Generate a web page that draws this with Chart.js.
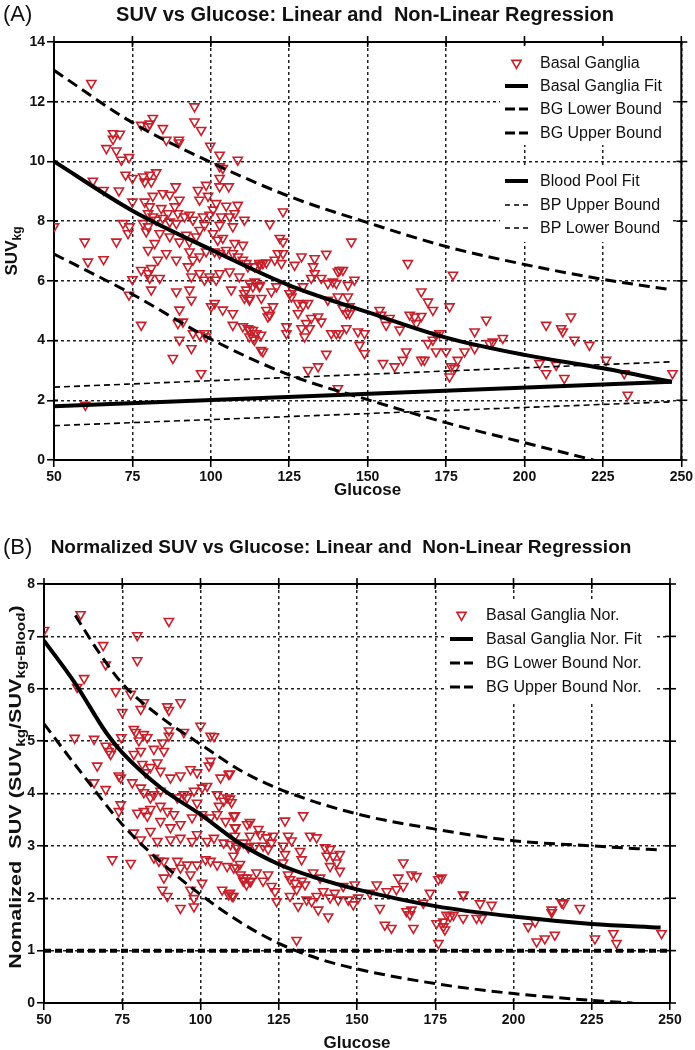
<!DOCTYPE html>
<html>
<head>
<meta charset="utf-8">
<script src="https://cdn.jsdelivr.net/npm/chart.js@4"></script>
<style>
  body { margin: 0; background: #fff; }
  #wrap { position: relative; width: 695px; height: 1050px; }
  canvas { position: absolute; left: 0; }
</style>
</head>
<body>
<div id="wrap">
  <canvas id="chartA" width="695" height="520" style="top:0"></canvas>
  <canvas id="chartB" width="695" height="530" style="top:520px"></canvas>
</div>
<script>
const FONT = "'Liberation Sans', Arial, sans-serif";
const RED = "#c8202b";

// ---- panel A: SUV vs glucose ----
const bgPoints = [
  [50,7.82],[60,1.84],[61.9,12.62],[94.8,11.84],[94.8,11.33],[96.9,11.05],[81.5,11.45],[77.8,11.22],[80,11.17],[80.5,11.26],
  [84.7,11.11],[68.8,10.94],[71,10.92],[68.8,10.75],[66.7,10.44],[69.9,10.36],[85.8,10.72],[89.8,10.72],[89.8,10.63],[99.8,10.52],
  [102.8,10.22],[108.6,10.05],[71.5,10.05],[73.9,10.14],[102.8,9.83],[103.8,9.77],[102.8,9.44],[105.7,9.16],[102.8,9.16],[72.8,9.55],
  [75,9.44],[78.4,9.49],[80.5,9.55],[78.9,9.32],[81,9.32],[82.6,9.63],[62.4,9.35],[65.8,9.04],[70.7,9.02],[75,8.65],
  [78.9,8.65],[81.5,8.84],[80.5,8.49],[84.7,8.93],[86.9,8.88],[88.8,9.16],[90,8.71],[95.9,9.04],[98.5,9.21],[99.1,8.84],
  [96.4,8.71],[101.7,8.6],[104.9,8.51],[108.6,8.54],[84.2,8.43],[86.3,8.26],[88.5,8.49],[89.5,8.26],[91.6,8.15],[93.2,8.21],
  [80,8.26],[81.5,8.15],[82.6,8.04],[84.7,8.1],[86.9,7.98],[89,7.93],[94.3,8.04],[78.4,7.93],[80,7.82],[79.4,7.65],
  [72,7.93],[73.6,7.59],[74.1,7.82],[97.5,8.15],[98,7.87],[96.4,7.7],[99.6,8.21],[100.7,8.38],[103.3,8.15],[106,8.15],
  [107.6,8.26],[110.7,8.04],[102.8,7.87],[107,7.82],[59.8,7.31],[69.9,7.31],[60.8,6.64],[65.8,6.72],[83.7,7.59],[86.9,7.48],
  [90,7.31],[92.2,7.54],[93.2,7.31],[95.3,7.48],[100.7,7.59],[102.2,7.37],[103.8,7.43],[107.6,7.26],[110.2,7.2],[80,7.03],
  [82.1,7.26],[83.1,6.7],[85.8,6.92],[89,6.7],[93.2,6.98],[94.3,6.7],[96.4,6.81],[98.5,6.98],[101.2,6.98],[102.8,6.92],
  [104.9,7.03],[107,6.92],[108.6,6.81],[110.2,6.7],[111.3,6.59],[77.8,6.36],[80,6.25],[81,6.42],[80.5,6.09],[83.7,6.09],
  [92.7,6.48],[93.8,6.14],[96.4,6.25],[98,6.03],[99.6,6.14],[101.7,6.03],[102.8,6.25],[106,6.31],[109.1,6.14],[111.8,6.48],
  [113.9,6.48],[115.5,6.59],[75,6.05],[73.9,5.53],[81,5.7],[89,5.64],[93.2,5.7],[93.8,5.36],[106.5,5.7],[111.3,5.7],
  [113.4,5.81],[110.7,5.42],[112.3,5.36],[115.5,5.81],[100.1,5.14],[101.2,5.25],[103.8,5.03],[107,4.91],[110.7,5.58],[77.8,4.52],
  [90,5.03],[89.5,4.58],[91.1,4.63],[107,4.52],[110.2,4.47],[111.8,4.41],[113.4,4.35],[112.3,4.13],[113.9,4.02],[116,4.19],
  [90,4.02],[94.3,4.24],[96.4,4.19],[98,4.24],[98.5,4.13],[87.9,3.41],[93.8,3.74],[96.9,2.9],[116,3.68],
  [123,8.32],[118.8,7.91],[122,7.43],[123,7.31],[144.8,7.31],[121.4,6.92],[123,6.92],[120.4,6.7],[122.5,6.59],[116.6,6.59],
  [115.6,6.53],[117.7,6.61],[128.9,6.81],[133.1,6.75],[136.8,6.9],[126.7,6.53],[132.6,6.48],[133.1,6.25],[141.1,6.36],[140.5,6.31],
  [142.1,6.36],[162.8,6.59],[177.2,6.2],[112.4,5.92],[114,5.97],[115.6,5.86],[119.3,5.64],[120.9,5.81],[125.1,5.58],[126.2,5.69],
  [129.4,5.81],[132,6.09],[135.2,6.09],[137.3,5.92],[138.9,5.97],[140,5.92],[143.7,5.86],[145.8,6.03],[112.4,5.42],[116.1,5.42],
  [125.7,5.47],[127.8,5.25],[129.4,5.19],[131,5.25],[137.3,5.36],[140.5,5.47],[143.7,5.47],[117.7,5.02],[118.8,4.86],[118.2,4.8],
  [119.8,5.14],[127.8,4.91],[130.4,4.58],[132,4.75],[134.2,4.8],[135.2,4.63],[142.1,5.08],[143.2,4.91],[144.2,4.91],[144.2,5.14],
  [112.4,4.36],[114.5,4.24],[113.5,4.08],[124.1,4.47],[124.1,4.24],[128.9,4.41],[129.9,4.13],[131.5,4.41],[138.4,4.24],[140,4.24],
  [141.1,4.24],[143.2,4.41],[146.9,4.3],[149,4.24],[116.6,3.63],[136.8,3.55],[147.4,3.85],[149,3.57],[131,3.01],[134.2,3.13],
  [140.5,2.4],[153.8,5.02],[154.3,4.86],[157,4.75],[155.9,4.52],[160.2,4.36],[167.1,5.64],[169.2,5.3],[170.8,5.02],[176.1,5.14],
  [163.4,4.86],[165,4.8],[167.1,4.82],[165.5,4.58],[171.8,4.19],[172.9,4.24],[169.2,3.91],[170.8,4.02],[154.9,3.24],[158.6,3.13],
  [161.2,3.35],[162.3,3.63],[167.1,3.35],[168.1,3.35],[171.8,3.63],[175,3.63],[176.6,3.13],[177.7,3.07],[178.7,3.35],[176.1,2.79],
  [180.9,3.63],[184.1,3.74],[184.1,4.3],[187.8,4.69],[188.8,3.91],[189.9,3.96],[193.1,4.08],[206.9,4.52],[211.7,4.41],[212.2,4.3],
  [214.8,4.8],[215.9,4.02],[220.7,3.85],[204.8,3.24],[206.9,2.9],[210.1,3.18],[212.7,2.74],[226,3.35],[231.8,2.9],[232.9,2.18],
  [247.2,2.9]
];
const bgFitX = [50, 75, 100, 125, 150, 175, 200, 225, 247];
const bgFitY = [10.0, 8.35, 7.05, 5.85, 4.95, 4.1, 3.52, 3.07, 2.62];
const bgUpperX = [50, 75, 100, 125, 150, 175, 200, 225, 247];
const bgUpperY = [13.05, 11.3, 9.97, 8.83, 7.95, 7.15, 6.55, 6.05, 5.7];
const bgLowerX = [50, 75, 100, 125, 150, 175, 200, 222];
const bgLowerY = [6.9, 5.55, 4.05, 2.85, 2.02, 1.25, 0.58, 0];
const bpX = [50, 247];
const bpFitY = [1.8, 2.62];
const bpUpperY = [2.44, 3.29];
const bpLowerY = [1.15, 1.95];

// ---- panel B: normalized SUV vs glucose ----
const bgNorPoints = [
  [61.7,7.42],[89.9,7.29],[50,7.12],[79.8,7.02],[68.9,6.83],[69.7,6.46],[79.8,6.54],[62.8,6.2],[60.6,6.03],[72.9,5.95],
  [77.7,5.9],[75,5.55],[81.9,5.74],[80.9,5.61],[89.4,5.66],[89.9,5.59],[93.6,5.74],[100,5.29],[103.2,5.1],[104.3,5.09],
  [94.7,5.17],[89.9,5.1],[89.9,5.2],[78.7,5.23],[79.3,5.17],[81.9,5.13],[83,5.07],[80.3,5.01],[59.8,5.06],[66,5.04],
  [74.7,5.07],[69.7,4.91],[70.7,4.81],[72.3,4.88],[71.3,4.75],[78.7,4.75],[80.9,4.81],[85.1,4.85],[87.8,4.97],[88.3,4.81],
  [67,4.53],[66,4.21],[69.7,4.08],[73.9,4.34],[74.5,4.3],[78.2,4.21],[81.4,4.56],[82.4,4.4],[84,4.5],[86.2,4.59],
  [87.2,4.43],[90.4,4.3],[93.6,4.34],[96.8,4.46],[98.9,4.4],[102.7,4.53],[103.2,4.62],[106.4,4.3],[109,4.37],[80.9,4.11],
  [81.9,4.02],[84,3.92],[85.1,3.98],[87.2,4.05],[92.6,3.92],[94.7,3.98],[95.7,3.92],[97.9,4.05],[98.9,3.82],[100.5,4.11],
  [102.1,4.14],[105.3,3.98],[107.4,3.86],[108.5,3.92],[105.9,3.76],[74.5,3.79],[73.9,3.66],[79.8,3.63],[81.9,3.66],[84,3.7],
  [87.2,3.76],[89.4,3.66],[91.5,3.6],[83,3.57],[87.2,3.47],[90.4,3.35],[93.6,3.41],[97.3,3.54],[100.5,3.6],[103.2,3.54],
  [105.3,3.6],[108,3.47],[110.6,3.57],[114.9,3.41],[111.2,3.35],[78.7,3.25],[80.9,3.12],[84,3.28],[86.2,3.09],[90.4,3.12],
  [93.6,3.15],[97.3,3.09],[98.9,3.22],[102.1,3.09],[104.3,3.15],[107.4,3.06],[109.6,3.03],[111.7,2.96],[115.4,2.99],[71.8,2.74],
  [77.7,2.67],[85.1,2.77],[86.7,2.71],[88.3,2.71],[92.6,2.71],[95.7,2.64],[98.9,2.64],[101.6,2.74],[103.2,2.71],[105.3,2.64],
  [108.5,2.61],[110.6,2.58],[112.8,2.45],[114.9,2.39],[88.3,2.39],[90.4,2.51],[93.6,2.58],[96.8,2.45],[87.8,2.16],[89.4,2.04],
  [96.8,2.16],[97.9,2],[100.5,2.29],[106.9,2.16],[109,2.07],[110.1,2.04],[93.6,1.81],[97.9,1.84],[113.8,2.39],[116,2.32],
  [109.4,4.38],[109.4,3.9],[109.9,3.83],[111,3.58],[111,3.35],[115.8,3.45],[118.5,3.32],[119,3.22],[121.1,3.16],[123.2,3.19],
  [122.7,3.06],[121.6,2.94],[111,3.19],[111.5,3],[113.7,3.06],[115.8,3.19],[115.3,2.97],[117.4,3],[120,3],[127,3.48],
  [132.8,3.58],[135,3.19],[137.1,3.16],[128,3.19],[129.1,3.1],[131.8,2.9],[126.4,3],[127,2.84],[126.4,2.68],[139.8,2.97],
  [141.4,2.94],[140.3,2.81],[142.4,2.81],[144.5,2.84],[143.5,2.68],[144.5,2.52],[141.4,2.61],[132.3,2.74],[136,2.49],[138.2,2.39],
  [110.5,2.81],[111.5,2.58],[112.6,2.65],[113.7,2.33],[115.8,2.33],[114.7,2.26],[117.9,2.49],[120,2.33],[121.6,2.45],[122.7,2.23],
  [109.4,2.1],[110.5,2.04],[123.8,2.13],[124.3,1.94],[128,2.45],[128.6,2.36],[130.2,2.29],[130.7,2.17],[132.3,2.33],[133.4,2.26],
  [128.6,2.04],[131.2,1.85],[133.9,1.97],[135.5,1.94],[137.1,2.04],[137.6,1.78],[139.2,2.13],[140.8,1.65],[141.4,2.01],[142.9,2.1],
  [144,1.97],[145.6,2.23],[147.2,1.97],[149.3,2.26],[148.8,1.88],[150.4,2.01],[154.1,2.1],[156.3,2.26],[157.3,1.81],[159.5,2.13],
  [162.6,2.17],[163.2,2.39],[164.8,2.68],[164.8,2.23],[167.4,2.45],[169,2.42],[165.8,1.75],[166.9,1.69],[167.4,1.78],[168,1.43],
  [171.2,1.91],[173.3,2.1],[176,2.36],[177,2.39],[158.9,1.49],[161,1.43],[175.4,1.52],[177.6,1.46],[178.1,1.4],[179.7,1.65],
  [176,1.14],[183.9,2.07],[183.9,1.62],[130.7,1.2],
  [184,2.06],[189.3,1.9],[193,1.87],[178.6,1.68],[180.8,1.68],[188.2,1.62],[189.8,1.62],[177.6,1.55],[204.7,1.46],[206.9,1.55],
  [207.4,1.17],[210,1.23],[213.2,1.3],[212.2,1.78],[212.2,1.73],[215.4,1.92],[215.9,1.9],[221.2,1.81],[226,1.23],[231.9,1.33],
  [232.9,1.14],[247.3,1.33]
];
const norFitX = [50, 60, 70, 75, 87.5, 100, 112.5, 125, 137.5, 150, 175, 200, 225, 247];
const norFitY = [6.92, 6.1, 5.15, 4.78, 4.1, 3.6, 3.05, 2.65, 2.38, 2.17, 1.85, 1.65, 1.51, 1.44];
const norUpperX = [60, 67.5, 75, 87.5, 100, 112.5, 125, 150, 175, 200, 225, 247];
const norUpperY = [7.4, 6.7, 6.1, 5.45, 4.94, 4.45, 4.09, 3.61, 3.32, 3.1, 3.0, 2.92];
const norLowerX = [50, 62.5, 75, 87.5, 100, 112.5, 125, 137.5, 150, 175, 200, 225, 238];
const norLowerY = [5.33, 4.35, 3.41, 2.68, 2.07, 1.55, 1.14, 0.85, 0.65, 0.37, 0.18, 0.05, 0];
const bloodNorX = [50, 250];
const bloodNorY = [1, 1];

const xy = (xs, ys) => xs.map((x, i) => ({ x, y: ys[i] }));

function scatterSet(label, pts) {
  return {
    type: "scatter", label, order: 1,
    data: pts.map(p => ({ x: p[0], y: p[1] })),
    pointStyle: "triangle", rotation: 180, pointRadius: 5.3,
    borderColor: RED, backgroundColor: "rgba(255,255,255,0)", borderWidth: 1.6,
  };
}

function lineSet(label, xs, ys, width, dash) {
  return {
    type: "line", label, order: 0,
    data: xy(xs, ys),
    borderColor: "#000", borderWidth: width, borderDash: dash,
    pointRadius: 0, fill: false, cubicInterpolationMode: "monotone",
  };
}

function axes(ymax, ystep, yWidth, xHeight) {
  const tickFont = { family: FONT, size: 14, weight: "bold" };
  const grid = { color: "#222", lineWidth: 1.5, tickLength: 7, tickColor: "#000", tickWidth: 1.6, tickBorderDash: [] };
  const border = { color: "#000", width: 2, dash: [3, 3] };
  return {
    x: {
      type: "linear", min: 50, max: 250,
      ticks: { stepSize: 25, font: tickFont, color: "#111", padding: 2, maxRotation: 0 },
      grid, border,
      afterFit: s => { s.height = xHeight; },
    },
    y: {
      type: "linear", min: 0, max: ymax,
      ticks: { stepSize: ystep, font: tickFont, color: "#111", padding: 2 },
      grid, border,
      afterFit: s => { s.width = yWidth; },
    },
  };
}

function drawSample(ctx, kind, x0, x1, y) {
  ctx.save();
  ctx.strokeStyle = "#000";
  if (kind === "tri") {
    const cx = (x0 + x1) / 2, r = 5.3;
    ctx.strokeStyle = RED; ctx.lineWidth = 1.6;
    ctx.beginPath();
    ctx.moveTo(cx - r * 0.866, y - r / 2);
    ctx.lineTo(cx + r * 0.866, y - r / 2);
    ctx.lineTo(cx, y + r);
    ctx.closePath(); ctx.stroke();
  } else {
    if (kind === "solid") { ctx.lineWidth = 4; ctx.setLineDash([]); }
    if (kind === "dashThick") { ctx.lineWidth = 3; ctx.setLineDash([10, 4]); }
    if (kind === "dashThin") { ctx.lineWidth = 1.6; ctx.setLineDash([5, 4]); }
    ctx.beginPath(); ctx.moveTo(x0, y); ctx.lineTo(x1, y); ctx.stroke();
  }
  ctx.restore();
}

// rotated axis title with subscripts; stretch lengthens it along the reading direction
function drawRotated(ctx, parts, bx, cy, size, subSize, stretch) {
  ctx.save();
  const fMain = "bold " + size + "px " + FONT;
  const fSub = "bold " + subSize + "px " + FONT;
  let total = 0;
  parts.forEach(p => { ctx.font = p.sub ? fSub : fMain; total += ctx.measureText(p.t).width; });
  ctx.translate(bx, cy);
  ctx.rotate(-Math.PI / 2);
  ctx.scale(stretch, 1);
  ctx.fillStyle = "#111";
  ctx.textAlign = "left"; ctx.textBaseline = "alphabetic";
  let pos = -total / 2;
  parts.forEach(p => {
    ctx.font = p.sub ? fSub : fMain;
    ctx.fillText(p.t, pos, p.sub ? 3.5 : 0);
    pos += ctx.measureText(p.t).width;
  });
  ctx.restore();
}

// frame, legend, titles drawn on top of the chart
const decorPlugin = {
  id: "decor",
  afterDraw(chart, args, o) {
    const { ctx, chartArea: a } = chart;
    const xs = chart.scales.x, ys = chart.scales.y;
    const line = (x0, y0, x1, y1) => { ctx.beginPath(); ctx.moveTo(x0, y0); ctx.lineTo(x1, y1); ctx.stroke(); };
    ctx.save();
    ctx.strokeStyle = "#000"; ctx.lineWidth = 2;
    ctx.beginPath(); ctx.moveTo(a.left - 1, a.top); ctx.lineTo(a.right, a.top); ctx.lineTo(a.right, a.bottom); ctx.stroke();
    ctx.lineWidth = 1.6;
    xs.ticks.forEach(t => {
      const px = xs.getPixelForValue(t.value);
      line(px, a.top - 6, px, a.top + 5);
      line(px, a.bottom, px, a.bottom - 4);
    });
    ys.ticks.forEach(t => {
      const py = ys.getPixelForValue(t.value);
      line(a.right - 5, py, a.right + 6, py);
      line(a.left, py, a.left + 4, py);
    });

    // legend
    const lg = o.legend;
    ctx.fillStyle = "#fff";
    lg.boxes.forEach(b => ctx.fillRect(b[0], b[1], b[2], b[3]));
    lg.rows.forEach(r => {
      drawSample(ctx, r.kind, lg.x0, lg.x1, r.y);
      ctx.fillStyle = "#111";
      ctx.font = "16px " + FONT;
      ctx.textAlign = "left"; ctx.textBaseline = "middle";
      ctx.fillText(chart.data.datasets[r.ds].label, lg.textX, r.y + 1);
    });

    // titles
    ctx.fillStyle = "#111";
    ctx.textBaseline = "middle";
    ctx.font = "22px " + FONT; ctx.textAlign = "left";
    ctx.fillText(o.tag, 3, o.titleY);
    ctx.font = "bold " + o.titleSize + "px " + FONT; ctx.textAlign = "center";
    ctx.fillText(o.title, o.titleX, o.titleY);
    ctx.font = "bold 17px " + FONT;
    ctx.fillText("Glucose", (a.left + a.right) / 2, o.xTitleY);
    ctx.restore();
    drawRotated(ctx, o.yTitle, o.yTitleX, o.yTitleY, o.yTitleSize, o.yTitleSub, o.yStretch);
  },
};

new Chart(document.getElementById("chartA"), {
  type: "scatter",
  data: {
    datasets: [
      scatterSet("Basal Ganglia", bgPoints),
      lineSet("Basal Ganglia Fit", bgFitX, bgFitY, 4, []),
      lineSet("BG Lower Bound", bgLowerX, bgLowerY, 3, [11, 6]),
      lineSet("BG Upper Bound", bgUpperX, bgUpperY, 3, [11, 6]),
      lineSet("Blood Pool Fit", bpX, bpFitY, 4, []),
      lineSet("BP Upper Bound", bpX, bpUpperY, 1.6, [6, 4]),
      lineSet("BP Lower Bound", bpX, bpLowerY, 1.6, [6, 4]),
    ],
  },
  options: {
    responsive: false, animation: false,
    layout: { padding: { top: 42, right: 13, left: 0, bottom: 0 } },
    scales: axes(14, 2, 54, 60),
    plugins: {
      legend: { display: false }, tooltip: { enabled: false },
      decor: {
        tag: "(A)", title: "SUV vs Glucose: Linear and  Non-Linear Regression",
        titleX: 365, titleY: 15, titleSize: 20, xTitleY: 490,
        yTitle: [{ t: "SUV" }, { t: "kg", sub: true }], yTitleX: 17, yTitleY: 251, yTitleSize: 17, yTitleSub: 12, yStretch: 1,
        legend: {
          x0: 505, x1: 528, textX: 540,
          boxes: [[500, 46, 173, 99], [500, 168, 173, 74]],
          rows: [
            { ds: 0, y: 63, kind: "tri" }, { ds: 1, y: 86, kind: "solid" },
            { ds: 2, y: 109, kind: "dashThick" }, { ds: 3, y: 133, kind: "dashThick" },
            { ds: 4, y: 181, kind: "solid" }, { ds: 5, y: 205, kind: "dashThin" },
            { ds: 6, y: 228, kind: "dashThin" },
          ],
        },
      },
    },
  },
  plugins: [decorPlugin],
});

new Chart(document.getElementById("chartB"), {
  type: "scatter",
  data: {
    datasets: [
      scatterSet("Basal Ganglia Nor.", bgNorPoints),
      lineSet("Basal Ganglia Nor. Fit", norFitX, norFitY, 4, []),
      lineSet("BG Lower Bound Nor.", norLowerX, norLowerY, 3, [11, 6]),
      lineSet("BG Upper Bound Nor.", norUpperX, norUpperY, 3, [11, 6]),
      lineSet("Blood Pool Nor.", bloodNorX, bloodNorY, 4, [7, 4]),
    ],
  },
  options: {
    responsive: false, animation: false,
    layout: { padding: { top: 64, right: 25, left: 0, bottom: 0 } },
    scales: axes(8, 1, 44, 47),
    plugins: {
      legend: { display: false }, tooltip: { enabled: false },
      decor: {
        tag: "(B)", title: "Normalized SUV vs Glucose: Linear and  Non-Linear Regression",
        titleX: 341, titleY: 28, titleSize: 19, xTitleY: 523,
        yTitle: [{ t: "Nomalized  SUV (SUV" }, { t: "kg", sub: true }, { t: "/SUV" }, { t: "kg-Blood", sub: true }, { t: ")" }],
        yTitleX: 21, yTitleY: 267, yTitleSize: 17, yTitleSub: 12, yStretch: 1.27,
        legend: {
          x0: 450, x1: 473, textX: 486,
          boxes: [[444, 80, 213, 102]],
          rows: [
            { ds: 0, y: 95, kind: "tri" }, { ds: 1, y: 119, kind: "solid" },
            { ds: 2, y: 143, kind: "dashThick" }, { ds: 3, y: 167, kind: "dashThick" },
          ],
        },
      },
    },
  },
  plugins: [decorPlugin],
});
</script>
</body>
</html>
